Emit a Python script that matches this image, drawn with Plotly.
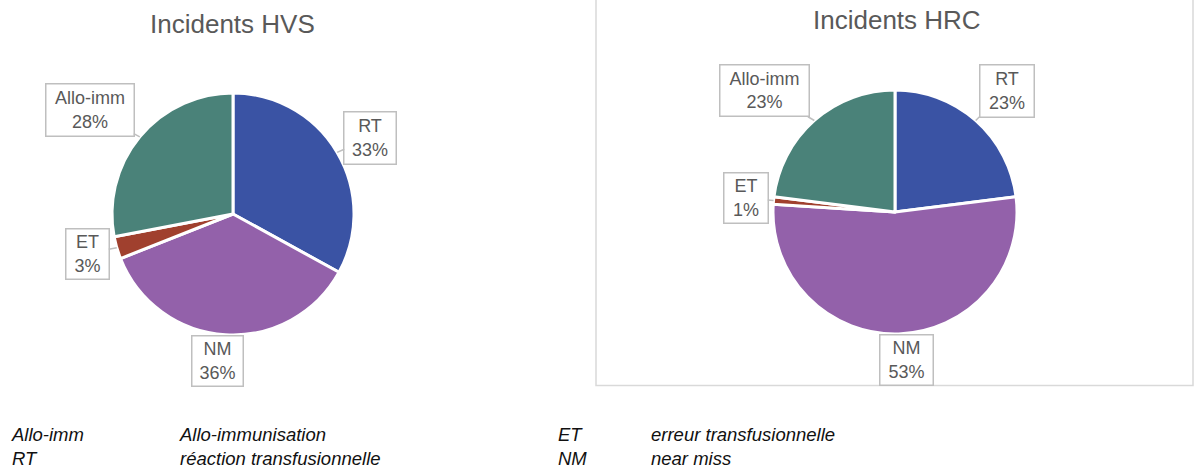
import math
import plotly.graph_objects as go

W, H = 1200, 472

categories = ["RT", "NM", "ET", "Allo-imm"]
hvs_values = [33, 36, 3, 28]
hrc_values = [23, 53, 1, 23]
colors = ["#3A53A4", "#9361AA", "#A0402E", "#4A8279"]

glossary_abbr = ["Allo-imm", "RT", "ET", "NM"]
glossary_text = ["Allo-immunisation", "réaction transfusionnelle",
                 "erreur transfusionnelle", "near miss"]

FONT = "Liberation Sans, Arial, sans-serif"
GREY_TXT = "#595959"
BOX_LINE = "#BFBFBF"


def domain(cx, cy, r):
    return dict(x=[(cx - r) / W, (cx + r) / W],
                y=[1 - (cy + r) / H, 1 - (cy - r) / H])


def callouts(values, cx, cy, r, boxes):
    # boxes: per category (box center px, width, height, with tail?)
    anns = []
    total = sum(values)
    start = 0.0
    for cat, v, (bx, by, bw, bh, tail) in zip(categories, values, boxes):
        mid = (start + v / 2) / total * 2 * math.pi
        start += v
        tx = cx + r * math.sin(mid)
        ty = cy - r * math.cos(mid)
        pct = f"{round(v / total * 100)}%"
        base = dict(text=f"{cat}<br>{pct}", xref="paper", yref="paper",
                    font=dict(family=FONT, size=18, color=GREY_TXT),
                    bgcolor="white", bordercolor=BOX_LINE, borderwidth=1.5,
                    borderpad=1, width=bw - 4, height=bh - 4, align="center",
                    valign="middle")
        if tail:
            anns.append(dict(base, x=tx / W, y=1 - ty / H, showarrow=True,
                             axref="pixel", ayref="pixel",
                             ax=bx - tx, ay=by - ty, arrowhead=0,
                             arrowwidth=1.5, arrowcolor=BOX_LINE, standoff=0))
        else:
            anns.append(dict(base, x=bx / W, y=1 - by / H, showarrow=False,
                             xanchor="center", yanchor="middle"))
    return anns


fig = go.Figure()

L = dict(cx=233, cy=214, r=121)
R = dict(cx=895, cy=212, r=122)

for vals, g, name in [(hvs_values, L, "HVS"), (hrc_values, R, "HRC")]:
    fig.add_trace(go.Pie(labels=categories, values=vals, sort=False,
                         direction="clockwise", rotation=0, textinfo="none",
                         hoverinfo="label+percent", name=name,
                         marker=dict(colors=colors, line=dict(color="white", width=3)),
                         domain=domain(g["cx"], g["cy"], g["r"]),
                         showlegend=False))

annotations = []
annotations += callouts(hvs_values, L["cx"], L["cy"], L["r"], [
    (370.5, 137.5, 53, 53, True),
    (217, 360.5, 52, 51, False),
    (87, 253.5, 44, 51, True),
    (89.5, 109.5, 89, 53, True),
])
annotations += callouts(hrc_values, R["cx"], R["cy"], R["r"], [
    (1006.5, 90.5, 55, 53, True),
    (906, 359.5, 54, 51, False),
    (745.5, 197.5, 45, 51, True),
    (764, 91, 90, 52, True),
])

for txt, x, y in [("Incidents HVS", 233, 24), ("Incidents HRC", 897, 20)]:
    annotations.append(dict(text=txt, x=x / W, y=1 - y / H, xref="paper", yref="paper",
                            showarrow=False, xanchor="center", yanchor="middle",
                            font=dict(family=FONT, size=26, color=GREY_TXT)))

# glossary under the charts: one two-line block per column
columns = [
    ("<br>".join([glossary_abbr[0], glossary_abbr[1]]), 10),
    ("<br>".join([glossary_text[0], glossary_text[1]]), 178),
    ("<br>".join([glossary_abbr[2], glossary_abbr[3]]), 557),
    ("<br>".join([glossary_text[2], glossary_text[3]]), 650),
]
for txt, x in columns:
    annotations.append(dict(text=txt, x=x / W, y=1 - 446 / H,
                            xref="paper", yref="paper", showarrow=False,
                            xanchor="left", yanchor="middle", align="left",
                            borderpad=0,
                            font=dict(family=FONT, size=18.5, color="#111111",
                                      style="italic")))

fig.update_layout(
    width=W, height=H,
    margin=dict(l=0, r=0, t=0, b=0),
    paper_bgcolor="white", plot_bgcolor="white",
    annotations=annotations,
    shapes=[dict(type="rect", xref="paper", yref="paper",
                 x0=596 / W, x1=1193 / W, y0=1 - 385.5 / H, y1=1.01,
                 line=dict(color="#D9D9D9", width=1.5), fillcolor="rgba(0,0,0,0)",
                 layer="below")],
)

fig.write_html("out.html", config={"displayModeBar": False},
               post_script="document.body.style.margin='0';"
                           "document.body.style.overflow='hidden';")
